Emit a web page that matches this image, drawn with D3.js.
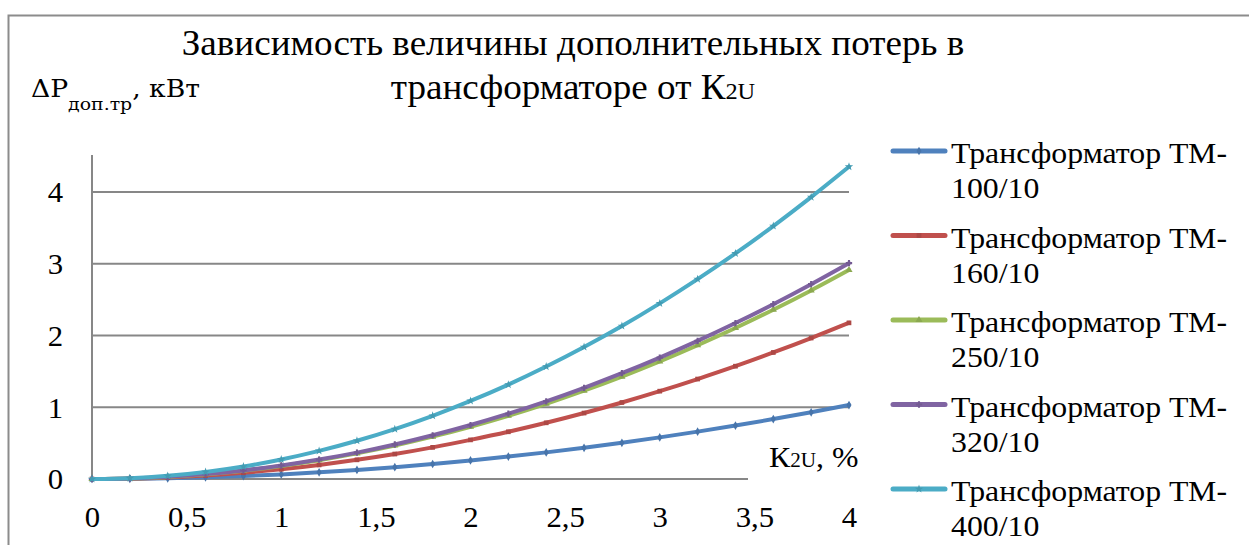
<!DOCTYPE html>
<html>
<head>
<meta charset="utf-8">
<script src="https://cdn.jsdelivr.net/npm/d3@7"></script>
<style>
  html, body { margin: 0; padding: 0; background: #fff; }
  svg { display: block; }
  text { font-family: "Liberation Serif", "Times New Roman", serif; fill: #000; }
</style>
</head>
<body>
<svg id="chart" width="1249" height="545"></svg>
<script>
// K2U, % — unbalance coefficient
const k2u = [0, 0.2, 0.4, 0.6, 0.8, 1, 1.2, 1.4, 1.6, 1.8, 2, 2.2, 2.4, 2.6, 2.8, 3, 3.2, 3.4, 3.6, 3.8, 4];

// Additional losses, kW, per transformer
const tm100 = [0, 0.003, 0.010, 0.023, 0.041, 0.064, 0.093, 0.126, 0.165, 0.209, 0.258, 0.312, 0.371, 0.435, 0.505, 0.580, 0.660, 0.745, 0.835, 0.930, 1.030];
const tm160 = [0, 0.005, 0.022, 0.049, 0.087, 0.136, 0.196, 0.267, 0.348, 0.441, 0.545, 0.658, 0.783, 0.919, 1.066, 1.224, 1.393, 1.572, 1.763, 1.964, 2.176];
const tm250 = [0, 0.007, 0.029, 0.066, 0.116, 0.182, 0.262, 0.357, 0.466, 0.590, 0.728, 0.881, 1.048, 1.230, 1.427, 1.638, 1.864, 2.104, 2.359, 2.628, 2.912];
const tm320 = [0, 0.008, 0.030, 0.068, 0.120, 0.188, 0.271, 0.368, 0.481, 0.609, 0.752, 0.910, 1.083, 1.271, 1.474, 1.692, 1.925, 2.173, 2.436, 2.715, 3.008];
const tm400 = [0, 0.011, 0.044, 0.098, 0.174, 0.272, 0.392, 0.533, 0.696, 0.881, 1.088, 1.316, 1.567, 1.839, 2.132, 2.448, 2.785, 3.144, 3.525, 3.928, 4.352];

const seriesNames = ["Трансформатор ТМ-100/10", "Трансформатор ТМ-160/10", "Трансформатор ТМ-250/10", "Трансформатор ТМ-320/10", "Трансформатор ТМ-400/10"];
const seriesValues = [tm100, tm160, tm250, tm320, tm400];
const seriesColors = ["#4F81BD", "#C0504D", "#9BBB59", "#8064A2", "#4BACC6"];
const seriesSymbols = [d3.symbolDiamond, d3.symbolSquare, d3.symbolTriangle, d3.symbolCross, d3.symbolStar];

const xTicks = [0, 0.5, 1, 1.5, 2, 2.5, 3, 3.5, 4];
const xTickLabels = ["0", "0,5", "1", "1,5", "2", "2,5", "3", "3,5", "4"];
const yTicks = [0, 1, 2, 3, 4];

const svg = d3.select("#chart");
const gridColor = "#878787";

// Text in this chart is set slightly wide: stretch each label horizontally.
function widen(sel, k = 1.06) {
  sel.each(function () {
    const w = this.getComputedTextLength();
    d3.select(this).attr("textLength", w * k).attr("lengthAdjust", "spacingAndGlyphs");
  });
}

// Chart frame
svg.append("rect")
  .attr("x", 8.5).attr("y", 15.5)
  .attr("width", 1300).attr("height", 600)
  .attr("fill", "none").attr("stroke", "#8c8c8c").attr("stroke-width", 2);

const plot = { left: 92, right: 849, top: 155, bottom: 479 };
const x = d3.scaleLinear().domain([0, 4]).range([plot.left, plot.right]);
const y = d3.scaleLinear().domain([0, 4.515]).range([plot.bottom, plot.top]);

// Horizontal gridlines
svg.append("g")
  .selectAll("line").data(yTicks).join("line")
  .attr("x1", plot.left).attr("x2", plot.right)
  .attr("y1", d => y(d)).attr("y2", d => y(d))
  .attr("stroke", gridColor).attr("stroke-width", 2);

// Vertical axis line
svg.append("line")
  .attr("x1", plot.left).attr("x2", plot.left)
  .attr("y1", plot.top).attr("y2", plot.bottom)
  .attr("stroke", gridColor).attr("stroke-width", 2);

// Y tick labels
const yAxis = d3.axisLeft(y).tickValues(yTicks).tickSize(0).tickPadding(29).tickFormat(d3.format("d"));
const gy = svg.append("g").attr("transform", `translate(${plot.left},0)`).call(yAxis)
  .attr("font-size", 29);
gy.select(".domain").remove();
gy.selectAll("text").attr("dy", "0.34em");
widen(gy.selectAll("text"));

// X tick labels
const xAxis = d3.axisBottom(x).tickValues(xTicks).tickSize(0).tickPadding(27)
  .tickFormat((d, i) => xTickLabels[i]);
const gx = svg.append("g").attr("transform", `translate(0,${plot.bottom})`).call(xAxis)
  .attr("font-size", 29);
gx.select(".domain").remove();
gx.selectAll("text").attr("dy", "0.71em");
widen(gx.selectAll("text"));

// Series lines and markers
const line = d3.line().x((d, i) => x(k2u[i])).y(d => y(d)).curve(d3.curveMonotoneX);
seriesValues.forEach((vals, s) => {
  svg.append("path")
    .datum(vals)
    .attr("d", line)
    .attr("fill", "none")
    .attr("stroke", seriesColors[s])
    .attr("stroke-width", 4)
    .attr("stroke-linejoin", "round")
    .attr("stroke-linecap", "round");
  svg.append("g").selectAll("path").data(vals).join("path")
    .attr("transform", (d, i) => `translate(${x(k2u[i])},${y(d)})`)
    .attr("d", d3.symbol().type(seriesSymbols[s]).size(22))
    .attr("fill", d3.color(seriesColors[s]).darker(0.3))
    .attr("stroke", "none");
});

// X axis title with white backing
const xTitle = svg.append("g");
xTitle.append("rect").attr("x", 748).attr("y", 438).attr("width", 114).attr("height", 43).attr("fill", "#fff");
const xt = xTitle.append("text").attr("x", 769).attr("y", 467).attr("font-size", 30);
xt.append("tspan").text("К");
xt.append("tspan").attr("font-size", 20).text("2U");
xt.append("tspan").text(", %");
widen(xt);

// Y axis title
const yt = svg.append("text").attr("x", 31).attr("y", 97)
  .style("font-family", "'DejaVu Serif', serif").attr("font-size", 24);
yt.append("tspan").text("ΔP");
yt.append("tspan").attr("dy", 13).attr("font-size", 17).text("доп.тр");
yt.append("tspan").attr("dy", -13).text(", кВт");
yt.attr("textLength", 169).attr("lengthAdjust", "spacingAndGlyphs");

// Chart title
const t1 = svg.append("text").attr("x", 573).attr("y", 55).attr("text-anchor", "middle")
  .attr("font-size", 35).text("Зависимость величины дополнительных потерь в");
widen(t1);
const t2 = svg.append("text").attr("x", 573).attr("y", 99).attr("text-anchor", "middle").attr("font-size", 35);
t2.append("tspan").text("трансформаторе от К");
t2.append("tspan").attr("font-size", 23).text("2U");
widen(t2);

// Legend
const legend = svg.append("g");
seriesNames.forEach((name, s) => {
  const cy = 151 + s * 84.5;
  const g = legend.append("g").attr("transform", `translate(0,${cy})`);
  g.append("line").attr("x1", 893).attr("x2", 945).attr("y1", 0).attr("y2", 0)
    .attr("stroke", seriesColors[s]).attr("stroke-width", 5).attr("stroke-linecap", "round");
  g.append("path").attr("transform", "translate(919,0)")
    .attr("d", d3.symbol().type(seriesSymbols[s]).size(22))
    .attr("fill", d3.color(seriesColors[s]).darker(0.3));
  const parts = name.split("ТМ-");
  const a = g.append("text").attr("x", 951).attr("y", 12).attr("font-size", 30).text(parts[0] + "ТМ-");
  const b = g.append("text").attr("x", 951).attr("y", 47).attr("font-size", 30).text(parts[1]);
  widen(a); widen(b);
});
</script>
</body>
</html>
